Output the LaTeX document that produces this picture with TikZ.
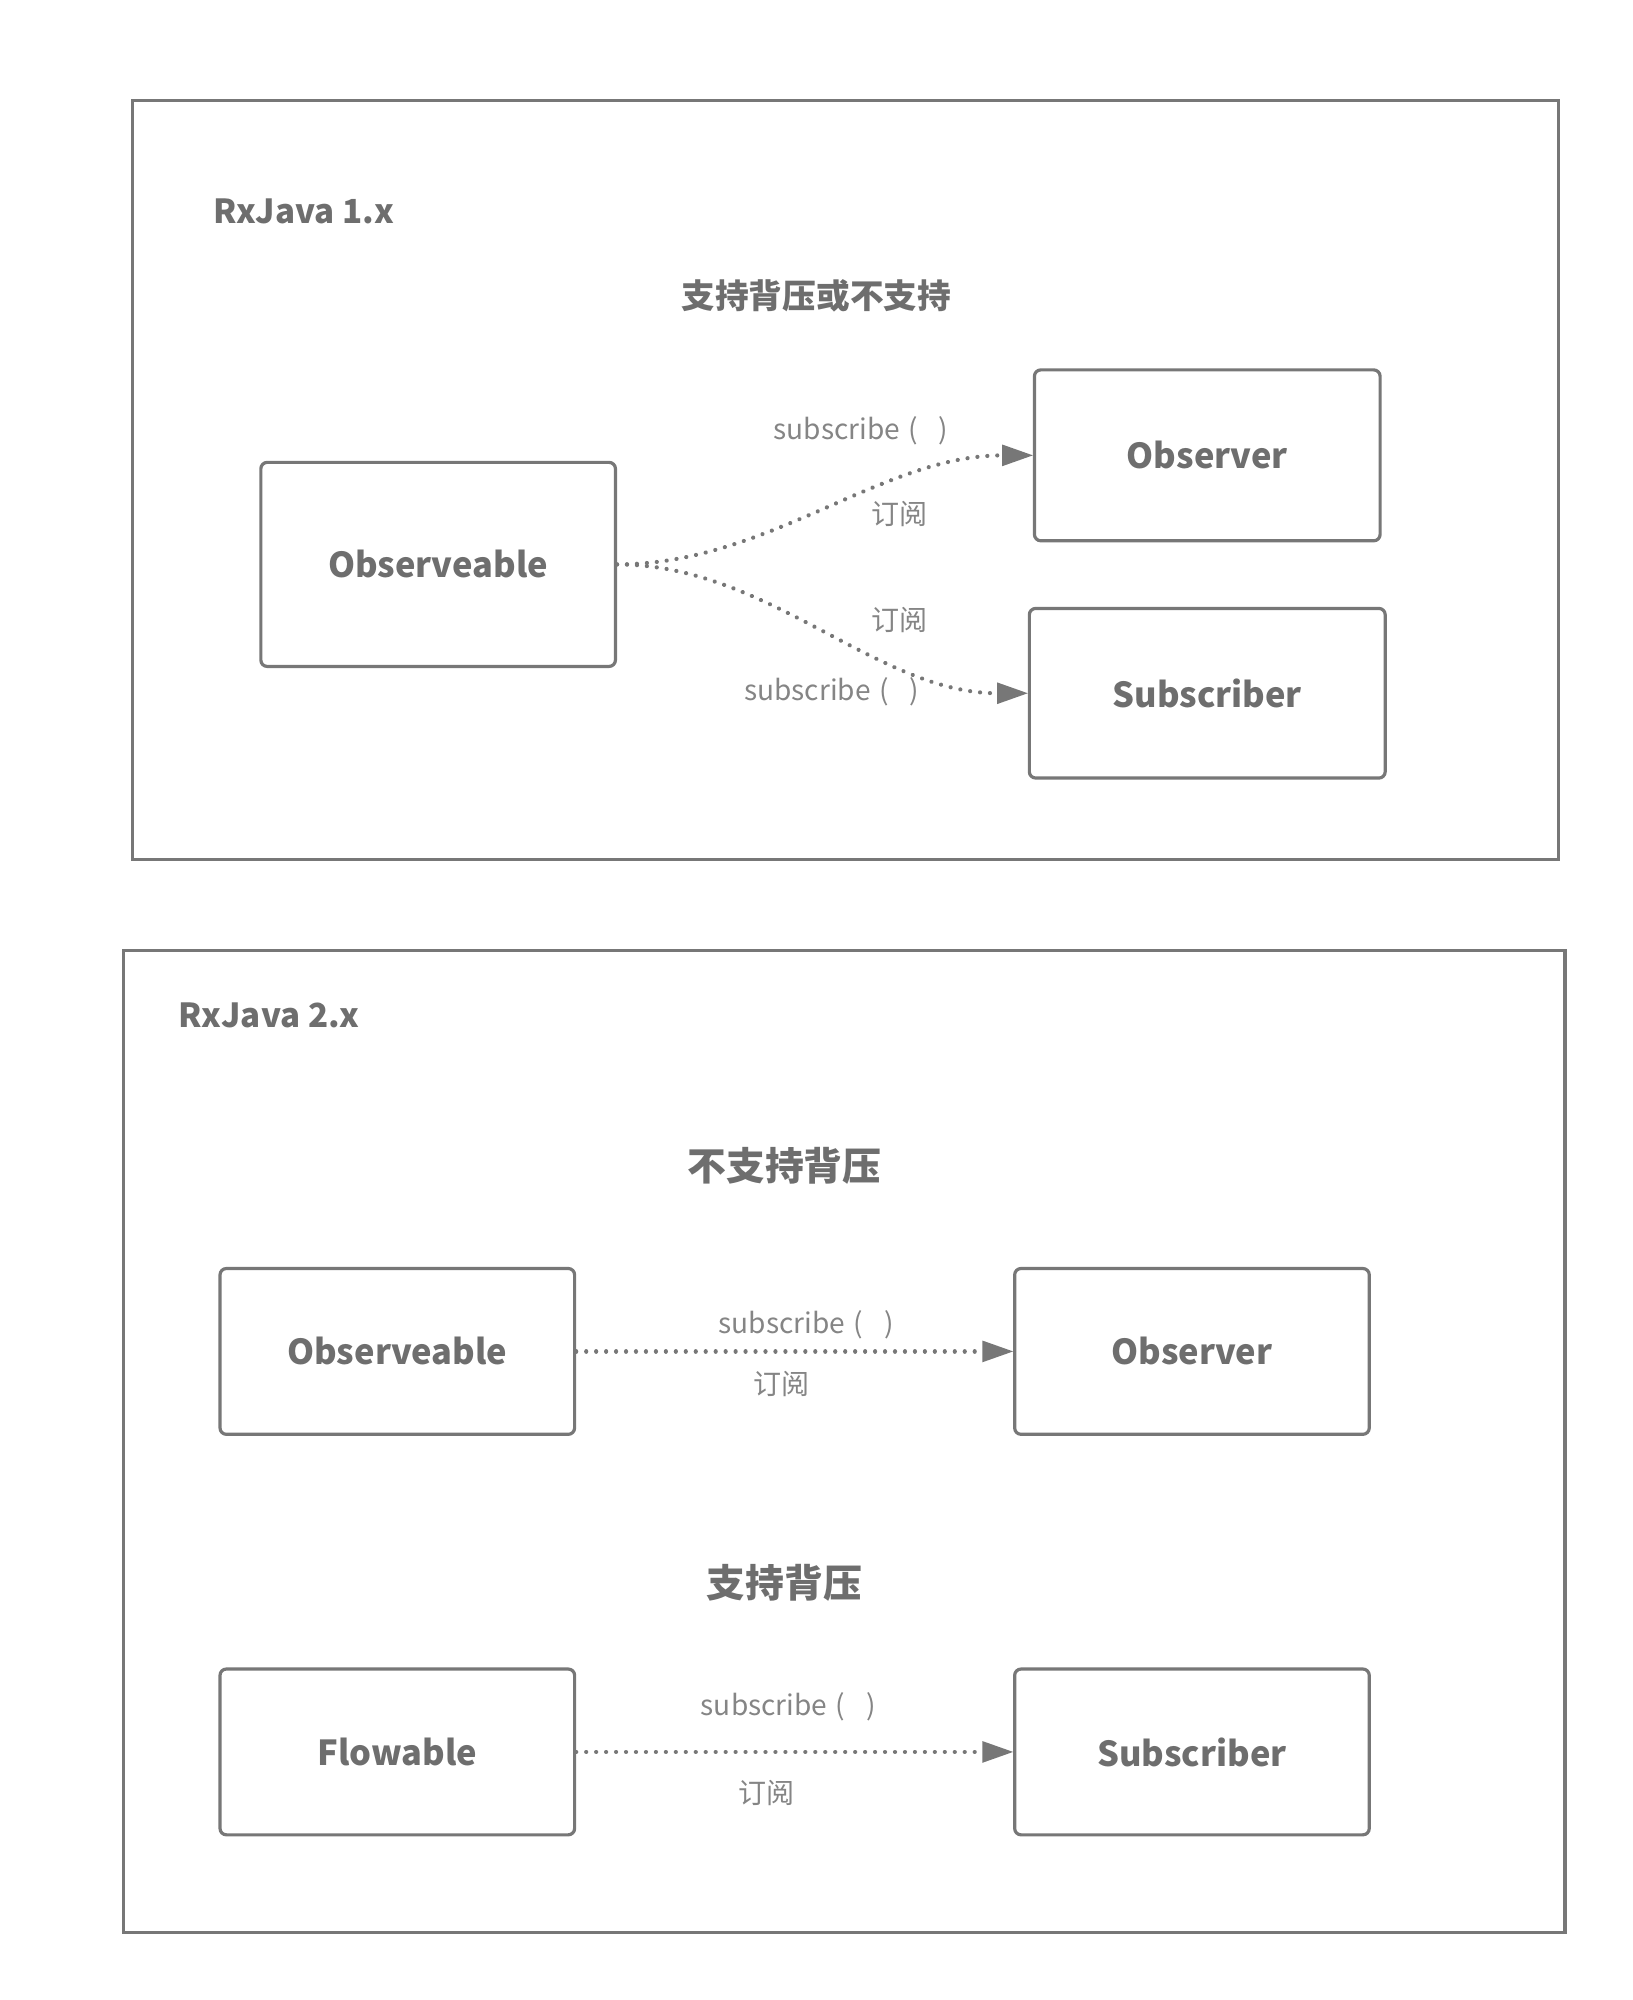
\documentclass[tikz,border=0pt]{standalone}
\usepackage{fontspec}
\setmainfont{Noto Sans CJK SC}
\usetikzlibrary{arrows.meta}
\definecolor{lc}{HTML}{777777}
\definecolor{tc}{HTML}{6E6E6E}
\definecolor{lbc}{HTML}{858585}
\tikzset{
  frame/.style={draw=lc,line width=2.5pt},
  box/.style={draw=lc,line width=2.5pt,rounded corners=5pt,minimum width=278pt,minimum height=130pt,inner sep=0pt,font=\fontsize{27}{32}\selectfont\bfseries,text=tc},
  boxtall/.style={box,minimum height=160pt},
  heading/.style={font=\fontsize{26.4}{32}\selectfont\bfseries,text=tc,inner sep=0pt},
  headingb/.style={font=\fontsize{30.4}{36}\selectfont\bfseries,text=tc,inner sep=0pt},
  title/.style={font=\fontsize{26}{31}\selectfont\bfseries,text=tc,inner sep=0pt,anchor=west},
  lbl/.style={font=\fontsize{22}{26}\selectfont,text=lbc,inner sep=0pt},
  conn/.style={draw=lc,line width=3.3pt,line cap=round,dash pattern=on 0.01pt off 7.8pt,-{Triangle[length=24pt,width=17pt,fill=lc,line width=0pt]}}
}
\newcommand{\subs}{subscribe\hspace{0.3em}(\hspace{0.75em})}
\begin{document}
\begin{tikzpicture}[x=1pt,y=-1pt]
\useasboundingbox (0,0) rectangle (1280,1568);
% RxJava 1.x
\draw[frame] (104,79) rectangle (1222,674);
\node[title] (t1) at (167,166) {RxJava 1.x};
\node[heading] (h1) at (640,232) {支持背压或不支持};
\node[boxtall] (obs1) at (343.5,442.5) {Observeable};
\node[box,minimum width=271pt,minimum height=134pt] (obr1) at (946.5,357) {Observer};
\node[box,minimum width=279pt,minimum height=133pt] (sub1) at (946.5,543.5) {Subscriber};
\draw[conn] (obs1.east) to[out=0,in=180,looseness=0.9] (obr1.west);
\draw[conn] (obs1.east) to[out=0,in=180,looseness=0.9] (sub1.west);
\node[lbl] (l1) at (675,338) {\subs};
\node[lbl] (l2) at (705,403) {订阅};
\node[lbl] (l3) at (705,486) {订阅};
\node[lbl] (l4) at (652,542) {\subs};
% RxJava 2.x
\draw[frame] (97,745) rectangle (1227,1515);
\node[title] (t2) at (140,796) {RxJava 2.x};
\node[headingb] (h2) at (615,914) {不支持背压};
\node[box] (obs2) at (311.5,1059.5) {Observeable};
\node[box] (obr2) at (934.5,1059.5) {Observer};
\draw[conn] (obs2.east) -- (obr2.west);
\node[lbl] (l5) at (632,1039) {\subs};
\node[lbl] (l6) at (613,1085) {订阅};
\node[headingb] (h3) at (615,1241) {支持背压};
\node[box] (flw) at (311.5,1373.5) {Flowable};
\node[box] (sub2) at (934.5,1373.5) {Subscriber};
\draw[conn] (flw.east) -- (sub2.west);
\node[lbl] (l7) at (618,1338) {\subs};
\node[lbl] (l8) at (601,1406) {订阅};
\end{tikzpicture}
\end{document}
